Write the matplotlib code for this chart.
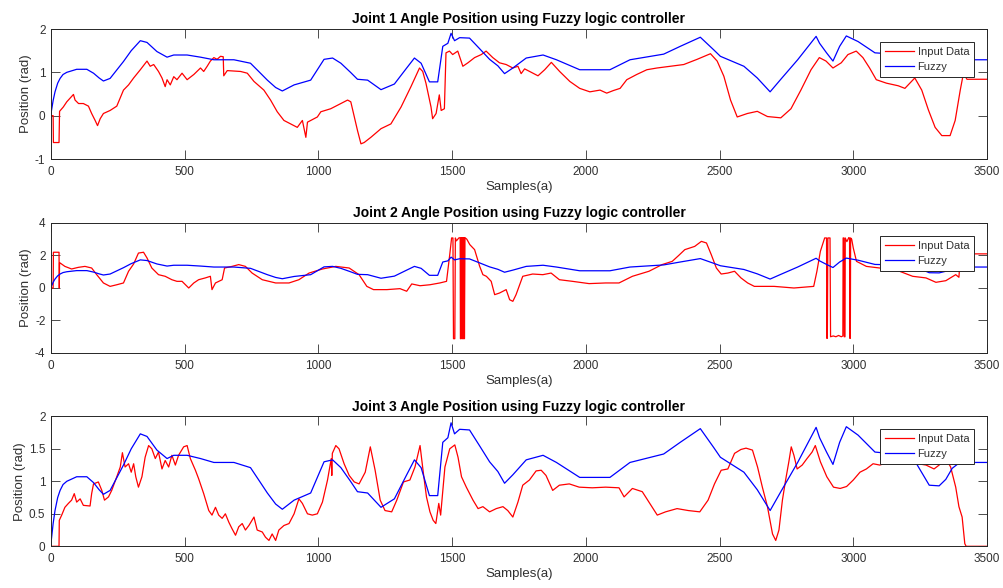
import matplotlib
matplotlib.use("Agg")
import matplotlib.pyplot as plt

# Fuzzy controller output (shared by all three joints)
fuzzy_x = [0, 8, 15, 25, 34, 45, 59, 96, 134, 159, 180, 196, 221, 271, 300, 334, 359, 396,
           434, 459, 509, 559, 609, 684, 746, 780, 809, 840, 865, 909, 971, 1021, 1053, 1084,
           1120, 1146, 1184, 1234, 1284, 1330, 1359, 1384, 1415, 1446, 1465, 1484, 1496, 1509,
           1528, 1565, 1602, 1640, 1671, 1696, 1727, 1777, 1840, 1890, 1977, 2090, 2165, 2291,
           2353, 2428, 2478, 2503, 2591, 2641, 2689, 2729, 2792, 2861, 2874, 2900, 2924, 2949,
           2974, 3018, 3081, 3130, 3197, 3235, 3284, 3321, 3346, 3370, 3395, 3444, 3500]
fuzzy_y = [0.05, 0.35, 0.55, 0.75, 0.86, 0.95, 1.0, 1.07, 1.07, 0.98, 0.87, 0.8, 0.86, 1.25,
           1.5, 1.73, 1.69, 1.48, 1.35, 1.4, 1.4, 1.35, 1.29, 1.29, 1.21, 1.0, 0.82, 0.65, 0.57,
           0.71, 0.82, 1.3, 1.33, 1.21, 1.0, 0.84, 0.82, 0.6, 0.73, 1.1, 1.33, 1.21, 0.78, 0.78,
           1.6, 1.67, 1.9, 1.73, 1.8, 1.79, 1.55, 1.3, 1.15, 0.97, 1.1, 1.33, 1.4, 1.29, 1.06,
           1.06, 1.29, 1.42, 1.6, 1.81, 1.52, 1.37, 1.14, 0.87, 0.55, 0.84, 1.29, 1.83, 1.67,
           1.45, 1.26, 1.6, 1.84, 1.71, 1.45, 1.43, 1.43, 1.28, 0.94, 0.93, 1.03, 1.2, 1.28,
           1.29, 1.29]

# Joint 1 input data
joint1_x = [0, 8, 9, 30, 32, 46, 59, 77, 84, 90, 103, 121, 140, 152, 165, 174, 184, 196, 221,
            246, 271, 290, 309, 334, 359, 371, 384, 402, 415, 427, 434, 446, 459, 471, 490, 509,
            534, 559, 571, 584, 596, 609, 621, 634, 644, 646, 659, 709, 734, 759, 796, 821, 846,
            871, 896, 921, 940, 953, 959, 996, 1009, 1046, 1084, 1109, 1121, 1146, 1159, 1171,
            1196, 1234, 1271, 1309, 1346, 1378, 1390, 1402, 1421, 1427, 1440, 1452, 1459, 1471,
            1477, 1490, 1502, 1521, 1540, 1559, 1584, 1609, 1627, 1652, 1677, 1702, 1727, 1746,
            1758, 1771, 1790, 1821, 1846, 1871, 1902, 1940, 1977, 2015, 2053, 2078, 2103, 2128,
            2153, 2190, 2228, 2266, 2316, 2366, 2416, 2466, 2491, 2516, 2541, 2566, 2604, 2641,
            2679, 2729, 2767, 2804, 2842, 2873, 2898, 2924, 2955, 2980, 3011, 3036, 3061, 3086,
            3124, 3168, 3193, 3230, 3256, 3281, 3306, 3331, 3362, 3381, 3400, 3412, 3425, 3500]
joint1_y = [0.0, 0.0, -0.62, -0.62, 0.1, 0.2, 0.32, 0.44, 0.49, 0.36, 0.28, 0.28, 0.22, 0.05,
            -0.11, -0.23, -0.07, 0.05, 0.12, 0.22, 0.59, 0.71, 0.87, 1.06, 1.26, 1.14, 1.18,
            1.02, 0.87, 0.67, 0.83, 0.71, 0.9, 0.83, 0.98, 0.83, 0.95, 1.1, 1.02, 1.14, 1.26,
            1.34, 1.3, 1.37, 1.36, 0.92, 1.04, 1.02, 0.98, 0.79, 0.59, 0.36, 0.09, -0.11, -0.19,
            -0.27, -0.11, -0.5, -0.15, -0.03, 0.09, 0.16, 0.28, 0.36, 0.32, -0.34, -0.65, -0.62,
            -0.5, -0.3, -0.19, 0.2, 0.67, 1.1, 1.02, 0.75, 0.2, -0.07, 0.05, 0.48, 0.12, 0.16,
            1.45, 1.49, 1.41, 1.49, 1.14, 1.22, 1.34, 1.41, 1.49, 1.34, 1.22, 1.18, 1.1, 1.14,
            0.97, 1.08, 1.02, 0.92, 1.06, 1.23, 1.02, 0.79, 0.63, 0.55, 0.59, 0.52, 0.58, 0.63,
            0.83, 0.95, 1.06, 1.1, 1.14, 1.18, 1.3, 1.43, 1.26, 0.91, 0.36, -0.03, 0.05, 0.1,
            -0.02, -0.05, 0.16, 0.59, 1.06, 1.34, 1.26, 1.1, 1.22, 1.41, 1.49, 1.34, 1.1, 0.83,
            0.75, 0.69, 0.63, 0.87, 0.59, 0.13, -0.27, -0.46, -0.46, -0.11, 0.59, 0.98, 0.84,
            0.84]

# Joint 2 input data
joint2_x = [0, 8, 9, 30, 31, 32, 34, 52, 77, 102, 127, 152, 171, 196, 221, 246, 271, 290, 309,
            327, 346, 359, 377, 402, 427, 452, 471, 490, 515, 534, 552, 577, 596, 602, 615, 640,
            649, 677, 702, 727, 752, 790, 840, 890, 927, 965, 1015, 1065, 1115, 1152, 1181, 1206,
            1256, 1305, 1330, 1349, 1380, 1417, 1454, 1479, 1491, 1498, 1503, 1505, 1510, 1512,
            1516, 1525, 1530, 1531, 1533, 1534, 1536, 1537, 1539, 1540, 1542, 1543, 1545, 1546,
            1548, 1555, 1566, 1584, 1603, 1615, 1628, 1646, 1659, 1677, 1702, 1715, 1727, 1739,
            1764, 1801, 1839, 1870, 1901, 1950, 2012, 2074, 2124, 2174, 2236, 2285, 2323, 2347,
            2370, 2407, 2432, 2451, 2469, 2488, 2506, 2531, 2556, 2580, 2605, 2630, 2704, 2778,
            2852, 2864, 2877, 2893, 2900, 2901, 2903, 2905, 2913, 2915, 2925, 2935, 2945, 2955,
            2961, 2962, 2965, 2966, 2969, 2970, 2976, 2983, 2986, 2987, 2989, 2990, 2994, 3000,
            3012, 3049, 3099, 3136, 3173, 3222, 3272, 3309, 3346, 3383, 3395, 3401, 3500]
joint2_y = [0.0, 0.0, 2.2, 2.2, 0.0, 1.55, 1.54, 1.33, 1.17, 1.27, 1.33, 1.23, 0.82, 0.31,
            0.1, 0.2, 0.31, 1.03, 1.48, 2.15, 2.2, 1.85, 1.23, 0.82, 0.72, 0.51, 0.41, 0.41, 0.0,
            0.31, 0.51, 0.62, 0.72, -0.1, 0.31, 0.51, 1.23, 1.33, 1.44, 1.33, 0.92, 0.51, 0.31,
            0.31, 0.51, 0.92, 1.17, 1.33, 1.23, 0.82, 0.1, -0.1, -0.1, -0.04, -0.2, 0.25, 0.14,
            0.2, 0.31, 0.41, 2.05, 3.08, 3.08, -3.12, -3.12, 3.08, 2.9, 3.08, 3.1, -3.12, -3.12,
            3.1, 3.1, -3.12, 3.1, -3.12, 3.1, -3.12, 3.1, -3.12, 3.1, 3.0, 2.67, 2.36, 1.33,
            0.82, 0.72, 0.41, -0.41, -0.31, -0.1, -0.72, -0.82, -0.41, 0.72, 0.86, 0.82, 0.92,
            0.51, 0.41, 0.27, 0.31, 0.31, 0.72, 1.03, 1.44, 1.64, 2.0, 2.36, 2.56, 2.87, 2.77,
            2.05, 1.23, 0.86, 0.92, 1.03, 0.62, 0.31, 0.1, 0.1, 0.0, 0.1, 1.03, 2.26, 3.08, 3.08,
            -3.1, -3.1, 3.08, 3.08, -3.0, -2.95, -3.0, -2.92, -3.0, -2.95, 3.08, 3.08, -3.0, -3.0,
            3.08, 2.85, 3.1, 3.08, -3.1, -3.1, 3.08, 3.0, 2.46, 1.64, 1.33, 1.23, 1.17, 1.03,
            0.72, 0.62, 0.35, 0.45, 0.82, 0.66, 2.1, 2.1]

# Joint 3 input data
joint3_x = [0, 30, 31, 40, 52, 65, 77, 87, 96, 109, 121, 146, 152, 159, 177, 190, 200, 215,
            227, 246, 259, 267, 277, 290, 300, 309, 317, 327, 340, 352, 365, 377, 390, 402, 415,
            427, 440, 452, 465, 477, 496, 509, 521, 540, 552, 571, 590, 602, 615, 627, 640, 652,
            665, 677, 690, 702, 715, 727, 740, 759, 771, 790, 802, 815, 827, 840, 852, 871, 890,
            909, 927, 940, 959, 977, 996, 1015, 1034, 1048, 1050, 1052, 1065, 1077, 1096, 1115,
            1134, 1152, 1175, 1194, 1212, 1231, 1249, 1274, 1293, 1318, 1342, 1361, 1380, 1392,
            1404, 1417, 1429, 1439, 1450, 1457, 1473, 1491, 1510, 1522, 1535, 1553, 1578, 1597,
            1615, 1640, 1665, 1690, 1708, 1727, 1746, 1764, 1789, 1814, 1833, 1851, 1876, 1901,
            1938, 1975, 2024, 2074, 2124, 2143, 2174, 2211, 2236, 2267, 2298, 2341, 2383, 2426,
            2457, 2481, 2506, 2531, 2556, 2580, 2599, 2623, 2642, 2660, 2679, 2698, 2710, 2722,
            2735, 2747, 2759, 2768, 2778, 2790, 2809, 2827, 2846, 2858, 2877, 2901, 2926, 2951,
            2975, 3000, 3025, 3049, 3074, 3099, 3136, 3198, 3272, 3302, 3321, 3346, 3364, 3383,
            3395, 3407, 3417, 3422, 3500]
joint3_y = [0.0, 0.0, 0.4, 0.48, 0.6, 0.66, 0.71, 0.81, 0.68, 0.73, 0.63, 0.62, 0.81, 0.96,
            0.99, 0.86, 0.71, 0.76, 0.86, 1.07, 1.22, 1.44, 1.22, 1.27, 1.14, 1.27, 1.07, 0.91,
            1.07, 1.37, 1.55, 1.5, 1.35, 1.45, 1.19, 1.32, 1.22, 1.4, 1.25, 1.4, 1.53, 1.55,
            1.35, 1.17, 1.04, 0.81, 0.55, 0.48, 0.6, 0.48, 0.43, 0.5, 0.37, 0.27, 0.17, 0.3,
            0.35, 0.25, 0.32, 0.45, 0.25, 0.22, 0.14, 0.09, 0.19, 0.09, 0.25, 0.32, 0.35, 0.5,
            0.73, 0.66, 0.5, 0.48, 0.5, 0.68, 1.02, 1.35, 1.09, 1.43, 1.55, 1.5, 1.27, 1.09, 0.99,
            0.96, 1.14, 1.53, 1.17, 0.71, 0.55, 0.53, 0.71, 0.99, 1.02, 1.22, 1.55, 1.14, 0.76,
            0.53, 0.4, 0.35, 0.66, 0.48, 1.22, 1.5, 1.56, 1.37, 1.07, 0.91, 0.71, 0.58, 0.61,
            0.53, 0.58, 0.61, 0.55, 0.45, 0.68, 0.94, 1.02, 1.16, 1.17, 1.09, 0.86, 0.94, 0.96,
            0.91, 0.9, 0.91, 0.9, 0.76, 0.89, 0.84, 0.68, 0.48, 0.53, 0.58, 0.55, 0.53, 0.71,
            0.96, 1.17, 1.19, 1.43, 1.49, 1.51, 1.48, 1.22, 0.91, 0.61, 0.19, 0.09, 0.25, 0.71,
            1.02, 1.3, 1.53, 1.4, 1.19, 1.25, 1.35, 1.45, 1.55, 1.3, 1.07, 0.91, 0.89, 0.92, 1.02,
            1.14, 1.19, 1.27, 1.25, 1.3, 1.3, 1.25, 1.19, 1.25, 1.35, 1.22, 0.91, 0.61, 0.45,
            0.04, 0.0, 0.0]

titles = ["Joint 1 Angle Position using Fuzzy logic controller",
          "Joint 2 Angle Position using Fuzzy logic controller",
          "Joint 3 Angle Position using Fuzzy logic controller"]
y_limits = [(-1, 2), (-4, 4), (0, 2)]
y_ticks = [[-1, 0, 1, 2], [-4, -2, 0, 2, 4], [0, 0.5, 1, 1.5, 2]]
y_ticklabels = [["-1", "0", "1", "2"], ["-4", "-2", "0", "2", "4"],
                ["0", "0.5", "1", "1.5", "2"]]
x_ticks = [0, 500, 1000, 1500, 2000, 2500, 3000, 3500]
inputs = [(joint1_x, joint1_y), (joint2_x, joint2_y), (joint3_x, joint3_y)]

plt.rcParams["font.family"] = ["Liberation Sans", "DejaVu Sans"]
text_color = "#303030"
axis_color = "#262626"

fig = plt.figure(figsize=(10.04, 5.88), dpi=100)
fig.patch.set_facecolor("white")

W, H = 1004.0, 588.0
left, right = 51.0, 987.0
panel_rows = [(29.0, 159.0), (223.0, 353.0), (416.3, 546.3)]

for i, (top, bottom) in enumerate(panel_rows):
    ax = fig.add_axes([left / W, 1 - bottom / H, (right - left) / W, (bottom - top) / H])
    xs, ys = inputs[i]
    ax.plot(xs, ys, color="#ff0000", lw=0.9, label="Input Data")
    ax.plot(fuzzy_x, fuzzy_y, color="#0000ff", lw=0.9, label="Fuzzy")
    ax.set_xlim(0, 3500)
    ax.set_ylim(*y_limits[i])
    ax.set_xticks(x_ticks)
    ax.set_xticklabels([str(t) for t in x_ticks])
    ax.set_yticks(y_ticks[i])
    ax.set_yticklabels(y_ticklabels[i])
    ax.tick_params(direction="in", length=6.5, width=0.6, top=True, right=True,
                   labelsize=8.5, colors=text_color, pad=4)
    ax.tick_params(axis="x", pad=5)
    for sp in ax.spines.values():
        sp.set_color(axis_color)
        sp.set_linewidth(0.7)
    ax.set_title(titles[i], fontsize=10, fontweight="bold", color="black", pad=4)
    ax.set_xlabel("Samples(a)", fontsize=9.5, color=text_color, labelpad=2)
    ax.set_ylabel("Position (rad)", fontsize=9.5, color=text_color, labelpad=2)
    leg = ax.legend(loc="upper right", fontsize=8, fancybox=False, framealpha=1,
                    edgecolor=axis_color, handlelength=2.6, handletextpad=0.3,
                    borderpad=0.45, labelspacing=0.45, borderaxespad=1.15)
    leg.get_frame().set_linewidth(0.7)
    for t in leg.get_texts():
        t.set_color(text_color)

fig.savefig("out.png", dpi=100, facecolor="white")
